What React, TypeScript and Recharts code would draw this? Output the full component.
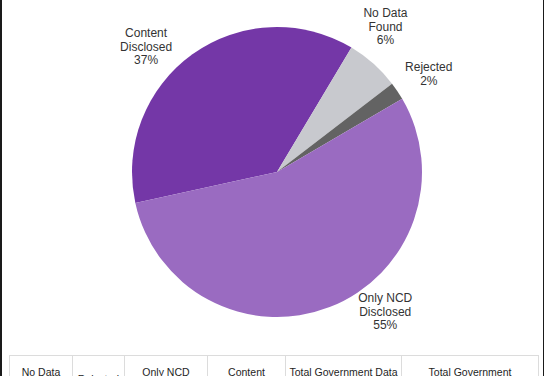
import { PieChart, Pie, Cell } from "recharts"

const categories = ["Content Disclosed", "No Data Found", "Rejected", "Only NCD Disclosed"]
const shares = [37, 6, 2, 55]
const labelLines = [["Content", "Disclosed"], ["No Data", "Found"], ["Rejected"], ["Only NCD", "Disclosed"]]
const tableHeaders = [
  "No Data Found",
  "Rejected",
  "Only NCD Disclosed",
  "Content Disclosed",
  "Total Government Data Sets",
  "Total Government Organizations",
]

const COLORS = ["#7437a7", "#c8c9ce", "#636363", "#9a6bc1"]
// nudges the label angle away from the slice middle, like the source layout
const LABEL_TURN = [11.3, 4.4, -1.9, 15.9]
const COL_WIDTHS = [63, 52, 83, 78, 116, 137]

const data = categories.map((name, i) => ({ name, value: shares[i] }))

const RAD = Math.PI / 180

function renderLabel(props: any) {
  const { cx, cy, midAngle, outerRadius, index, percent } = props
  const angle = midAngle + LABEL_TURN[index]
  const r = outerRadius + 34
  const x = cx + r * Math.cos(-angle * RAD)
  const y = cy + r * Math.sin(-angle * RAD) - 3
  const lines = [...labelLines[index], `${Math.round(percent * 100)}%`]
  const top = y - ((lines.length - 1) * 13.5) / 2
  return (
    <text
      x={x}
      y={top}
      textAnchor="middle"
      dominantBaseline="central"
      fill="#333"
      fontSize={12}
      fontFamily="'Liberation Sans', Arial, sans-serif"
    >
      {lines.map((line, i) => (
        <tspan key={i} x={x} dy={i === 0 ? 0 : 13.5}>
          {line}
        </tspan>
      ))}
    </text>
  )
}

export default function App() {
  return (
    <div
      style={{
        position: "absolute",
        top: 0,
        left: 0,
        width: 544,
        height: 376,
        overflow: "hidden",
        background: "#fff",
        boxSizing: "border-box",
        borderLeft: "2px solid #1a1a1a",
        borderRight: "1px solid #1a1a1a",
        fontFamily: "'Liberation Sans', Arial, sans-serif",
      }}
    >
      <PieChart width={540} height={350} style={{ position: "absolute", top: 0, left: -2 }}>
        <Pie
          data={data}
          dataKey="value"
          nameKey="name"
          cx={272}
          cy={167}
          outerRadius={145}
          startAngle={192.3}
          endAngle={-167.7}
          stroke="none"
          labelLine={false}
          label={renderLabel}
          isAnimationActive={false}
        >
          {data.map((entry, index) => (
            <Cell key={`cell-${index}`} fill={COLORS[index]} />
          ))}
        </Pie>
      </PieChart>
      <table
        style={{
          position: "absolute",
          top: 355,
          left: 7,
          borderCollapse: "collapse",
          tableLayout: "fixed",
          width: 529,
          fontSize: 10.5,
          color: "#1e1e1e",
        }}
      >
        <colgroup>
          {COL_WIDTHS.map((w, i) => (
            <col key={i} style={{ width: w }} />
          ))}
        </colgroup>
        <tbody>
          <tr>
            {tableHeaders.map((h) => (
              <td
                key={h}
                style={{
                  boxSizing: "border-box",
                  border: "1px solid #dcdcdc",
                  textAlign: "center",
                  verticalAlign: "middle",
                  padding: "10px 3px",
                  lineHeight: "13px",
                  overflow: "hidden",
                }}
              >
                {h}
              </td>
            ))}
          </tr>
        </tbody>
      </table>
    </div>
  )
}
